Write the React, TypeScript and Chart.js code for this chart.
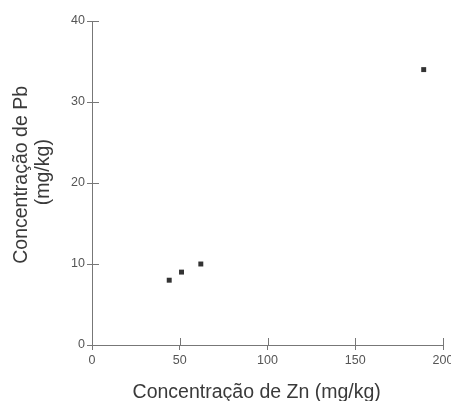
import React, { useEffect, useRef } from "react";
import { Chart, registerables } from "chart.js";

Chart.register(...registerables);

const zinc = [44, 51, 62, 189];
const lead = [8, 9, 10, 34];
const xTitle = "Concentração de Zn (mg/kg)    ";
const yTitle = ["   Concentração de Pb", "    (mg/kg)"];

const AXIS = "#777";
const TICK_TEXT = "#555";
const TITLE = "#3a3a3a";
const FONT = "'Liberation Sans', Arial, sans-serif";

const innerTicks = {
  id: "innerTicks",
  afterDraw(chart: any) {
    const ctx = chart.ctx;
    const xs = chart.scales.x;
    const ys = chart.scales.y;
    ctx.save();
    ctx.strokeStyle = AXIS;
    ctx.lineWidth = 1;
    ctx.beginPath();
    xs.ticks.forEach((t: any) => {
      const px = Math.round(xs.getPixelForValue(t.value)) + 0.5;
      ctx.moveTo(px, ys.bottom);
      ctx.lineTo(px, ys.bottom - 7);
    });
    ys.ticks.forEach((t: any) => {
      const py = Math.round(ys.getPixelForValue(t.value)) + 0.5;
      ctx.moveTo(xs.left, py);
      ctx.lineTo(xs.left + 7, py);
    });
    ctx.stroke();
    ctx.restore();
  },
};

export default function App() {
  const ref = useRef<HTMLCanvasElement>(null);
  useEffect(() => {
    document.body.style.margin = "0";
    const chart = new Chart(ref.current!, {
      type: "scatter",
      data: {
        datasets: [
          {
            data: zinc.map((x, i) => ({ x, y: lead[i] })),
            pointStyle: "rect",
            pointRadius: 3.5,
            backgroundColor: "#333",
            borderColor: "#333",
            borderWidth: 0,
          },
        ],
      },
      options: {
        animation: false,
        responsive: false,
        layout: { padding: { top: 21, right: 8, left: 0, bottom: 0 } },
        plugins: { legend: { display: false }, tooltip: { enabled: false } },
        scales: {
          x: {
            type: "linear",
            min: 0,
            max: 200,
            afterFit(s: any) {
              s.height = 56;
              s.paddingLeft = 0;
              s.paddingRight = 0;
            },
            ticks: { stepSize: 50, color: TICK_TEXT, font: { family: FONT, size: 12.5 }, padding: 3, maxRotation: 0 },
            grid: { display: true, drawOnChartArea: false, tickLength: 5, color: AXIS },
            border: { display: true, color: AXIS, width: 1 },
            title: { display: true, text: xTitle, color: TITLE, font: { family: FONT, size: 19.5 }, padding: { top: 11, bottom: -3 } },
          },
          y: {
            type: "linear",
            min: 0,
            max: 40,
            afterFit(s: any) {
              s.width = 92;
              s.paddingTop = 0;
              s.paddingBottom = 0;
            },
            ticks: { stepSize: 10, color: TICK_TEXT, font: { family: FONT, size: 12.5 }, padding: 2 },
            grid: { display: true, drawOnChartArea: false, tickLength: 5, color: AXIS },
            border: { display: true, color: AXIS, width: 1 },
            title: { display: true, text: yTitle, color: TITLE, font: { family: FONT, size: 19.5, lineHeight: 1.1 }, padding: { top: 11, bottom: 6 } },
          },
        },
      },
      plugins: [innerTicks],
    });
    return () => chart.destroy();
  }, []);
  return (
    <div style={{ width: 451, height: 401 }}>
      <canvas ref={ref} width={451} height={401} style={{ display: "block" }} />
    </div>
  );
}
